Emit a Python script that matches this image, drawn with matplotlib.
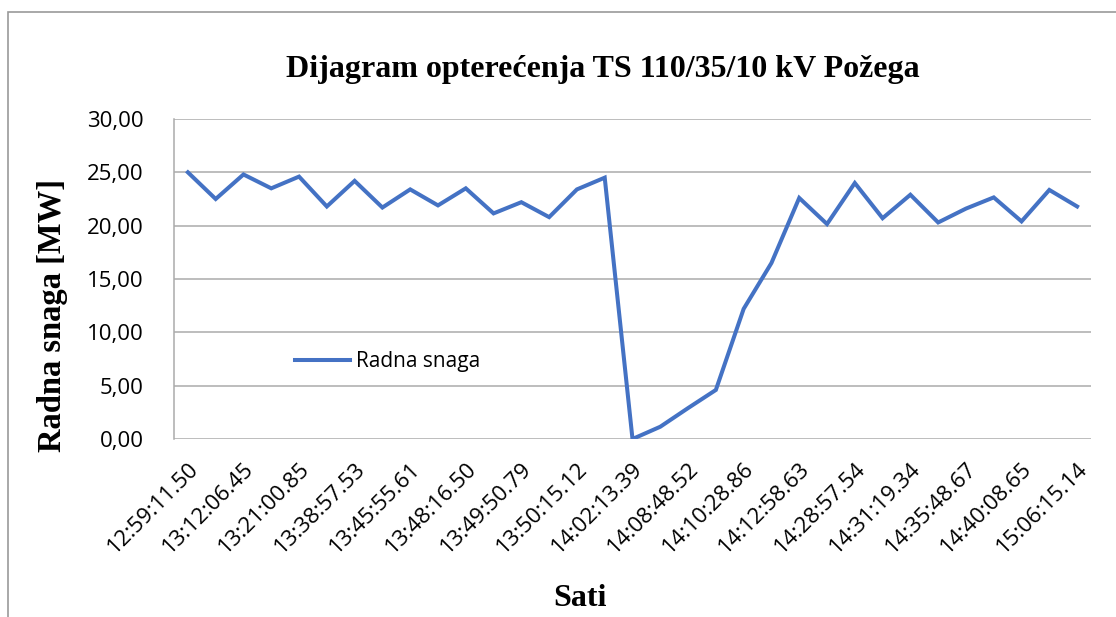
import matplotlib
matplotlib.use("Agg")
import matplotlib.pyplot as plt
from matplotlib.patches import Rectangle
from matplotlib.ticker import FuncFormatter, MultipleLocator

times = ["12:59:11.50", "", "13:12:06.45", "", "13:21:00.85", "", "13:38:57.53", "",
         "13:45:55.61", "", "13:48:16.50", "", "13:49:50.79", "", "13:50:15.12", "",
         "14:02:13.39", "", "14:08:48.52", "", "14:10:28.86", "", "14:12:58.63", "",
         "14:28:57.54", "", "14:31:19.34", "", "14:35:48.67", "", "14:40:08.65", "",
         "15:06:15.14"]
power = [25.0, 22.5, 24.8, 23.5, 24.6, 21.8, 24.2, 21.7, 23.4, 21.9, 23.5, 21.15,
         22.2, 20.8, 23.4, 24.5, 0.0, 1.15, 2.9, 4.6, 12.2, 16.5, 22.6, 20.15,
         24.0, 20.7, 22.9, 20.3, 21.6, 22.65, 20.4, 23.35, 21.8]

W, H = 1116, 617
fig = plt.figure(figsize=(W / 100, H / 100), dpi=100)
fig.patch.set_facecolor("white")

# outer chart frame (cut off at right/bottom)
fig.add_artist(Rectangle((8 / W, -0.1), 1.2, 1 - 12 / H + 0.1, transform=fig.transFigure,
                         fill=False, edgecolor="#9a9a9a", linewidth=1.2))

left, right, top, bottom = 174, 1091, 119, 439
ax = fig.add_axes([left / W, 1 - bottom / H, (right - left) / W, (bottom - top) / H])

x = list(range(len(power)))
ax.plot(x, power, color="#4472C4", linewidth=2.9, solid_joinstyle="miter", label="Radna snaga")
ax.set_xlim(-0.5, len(power) - 0.5)
ax.set_ylim(0, 30)
ax.yaxis.set_major_locator(MultipleLocator(5))
ax.yaxis.set_major_formatter(FuncFormatter(lambda v, p: f"{v:.2f}".replace(".", ",")))
ax.grid(axis="y", color="#ababab", linewidth=1.1)
ax.set_axisbelow(True)
for s in ["top", "right", "bottom"]:
    ax.spines[s].set_visible(False)
ax.spines["left"].set_color("#ababab")
ax.spines["left"].set_linewidth(1.1)

tick_font = "Open Sans"
ax.set_xticks(x[::2])
ax.set_xticklabels([t for t in times[::2]], rotation=45, ha="right", rotation_mode="anchor",
                   fontsize=16, family=tick_font)
ax.tick_params(axis="x", length=0, pad=14)
ax.tick_params(axis="y", length=0, pad=22, labelsize=16)
for lab in ax.get_yticklabels():
    lab.set_family(tick_font)

leg = ax.legend(loc="upper left", bbox_to_anchor=((287 - left) / (right - left), 1 - (343 - top) / (bottom - top)),
                frameon=False, prop={"family": tick_font, "size": 15}, handlelength=2.6,
                handletextpad=0.3, borderaxespad=0)

fig.text(603 / W, 1 - 70 / H, "Dijagram opterećenja TS 110/35/10 kV Požega",
         ha="center", va="center", family="Liberation Serif", weight="bold", fontsize=23)
fig.text(52 / W, 1 - 316 / H, "Radna snaga [MW]", ha="center", va="center", rotation=90,
         family="Liberation Serif", weight="bold", fontsize=23.5)
fig.text(580 / W, 1 - 598 / H, "Sati", ha="center", va="center",
         family="Liberation Serif", weight="bold", fontsize=23)

fig.savefig("out.png", dpi=100)
